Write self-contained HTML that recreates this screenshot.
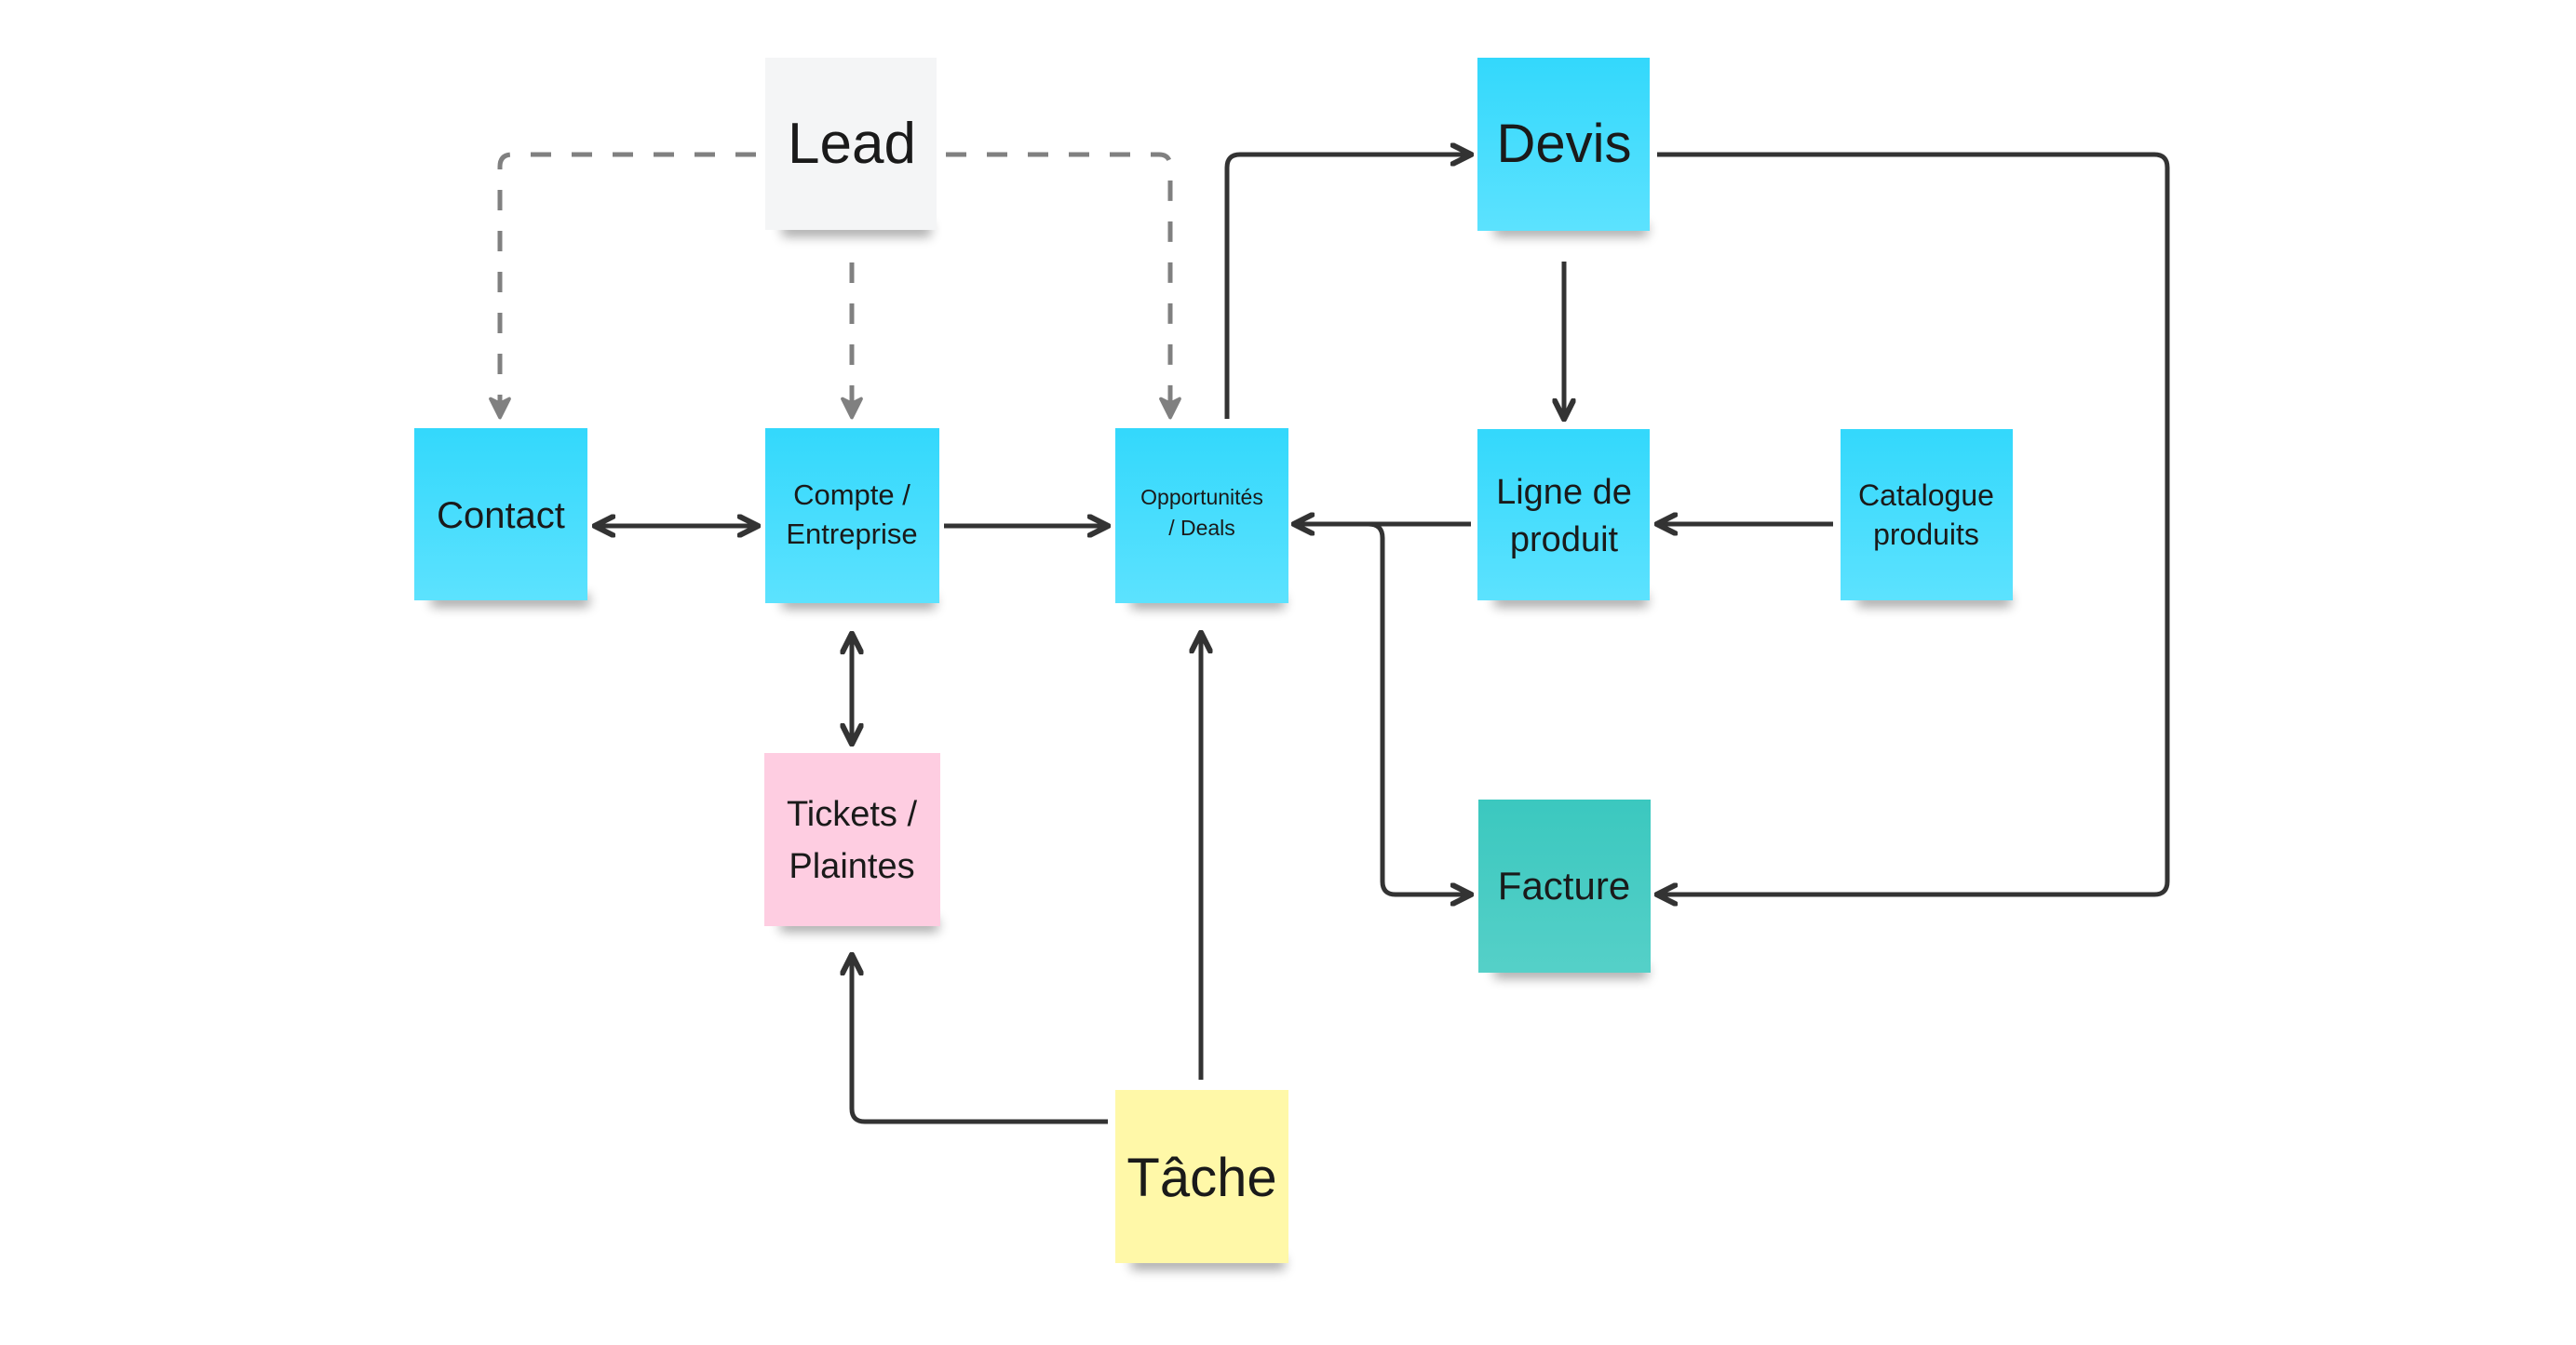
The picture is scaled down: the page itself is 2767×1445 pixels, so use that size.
<!DOCTYPE html>
<html><head><meta charset="utf-8"><style>
html,body{margin:0;padding:0;background:#fff}
svg{display:block}
text{font-family:"Liberation Sans",sans-serif;fill:#1a1a1a;text-anchor:middle}
</style></head><body>
<svg width="2767" height="1445" viewBox="0 0 2767 1445" xmlns="http://www.w3.org/2000/svg">
<defs>
<linearGradient id="cy" x1="0" y1="0" x2="0" y2="1"><stop offset="0" stop-color="#33d8fc"/><stop offset="1" stop-color="#5ce2fe"/></linearGradient>
<linearGradient id="tl" x1="0" y1="0" x2="0" y2="1"><stop offset="0" stop-color="#3bc8bf"/><stop offset="1" stop-color="#55d0c8"/></linearGradient>
<filter id="sh" x="-20%" y="-20%" width="140%" height="160%"><feGaussianBlur stdDeviation="6"/></filter>
<marker id="ad" viewBox="0 0 10 10" refX="8" refY="5" markerWidth="5" markerHeight="5" orient="auto-start-reverse"><path d="M1,1 L9,5 L1,9" fill="none" stroke="#333" stroke-width="2.4" stroke-linejoin="round" stroke-linecap="round"/></marker>
<marker id="ag" viewBox="0 0 10 10" refX="8" refY="5" markerWidth="5" markerHeight="5" orient="auto"><path d="M1,1 L9,5 L1,9 L3,5Z" fill="#808080" stroke="#808080" stroke-width="1.5" stroke-linejoin="round"/></marker>
</defs>
<!-- shadows -->
<g fill="#000" opacity="0.35" filter="url(#sh)">
<rect x="840" y="240" width="160" height="14"/>
<rect x="463" y="638" width="170" height="14"/>
<rect x="840" y="640" width="165" height="14"/>
<rect x="1215" y="640" width="165" height="14"/>
<rect x="1605" y="240" width="165" height="14"/>
<rect x="1605" y="638" width="165" height="14"/>
<rect x="1995" y="638" width="165" height="14"/>
<rect x="1605" y="1037" width="165" height="14"/>
<rect x="838" y="987" width="170" height="14"/>
<rect x="1215" y="1350" width="165" height="14"/>
</g>
<!-- notes -->
<rect x="822" y="62" width="184" height="185" fill="#f4f5f6"/>
<rect x="445" y="460" width="186" height="185" fill="url(#cy)"/>
<rect x="822" y="460" width="187" height="188" fill="url(#cy)"/>
<rect x="1198" y="460" width="186" height="188" fill="url(#cy)"/>
<rect x="1587" y="62" width="185" height="186" fill="url(#cy)"/>
<rect x="1587" y="461" width="185" height="184" fill="url(#cy)"/>
<rect x="1977" y="461" width="185" height="184" fill="url(#cy)"/>
<rect x="1588" y="859" width="185" height="186" fill="url(#tl)"/>
<rect x="821" y="809" width="189" height="186" fill="#fecde1"/>
<rect x="1198" y="1171" width="186" height="186" fill="#fff8a8"/>
<!-- dashed -->
<g fill="none" stroke="#808080" stroke-width="5" stroke-dasharray="22,22">
<path d="M812,166 H550 Q537,166 537,179 V446" marker-end="url(#ag)"/>
<path d="M1016,166 H1245 Q1257,166 1257,179 V446" marker-end="url(#ag)"/>
<path d="M915,282 V446" marker-end="url(#ag)"/>
</g>
<!-- solid -->
<g fill="none" stroke="#333" stroke-width="5" stroke-linejoin="round">
<path d="M1318,450 V180 Q1318,166 1332,166 H1578" marker-end="url(#ad)"/>
<path d="M641,565 H812" marker-start="url(#ad)" marker-end="url(#ad)"/>
<path d="M1014,565 H1188" marker-end="url(#ad)"/>
<path d="M1680,281 V448" marker-end="url(#ad)"/>
<path d="M1969,563 H1782" marker-end="url(#ad)"/>
<path d="M1580,563 H1392" marker-end="url(#ad)"/>
<path d="M1470,563 Q1485,563 1485,578 V947 Q1485,961 1499,961 H1578" marker-end="url(#ad)"/>
<path d="M1780,166 H2314 Q2328,166 2328,180 V947 Q2328,961 2314,961 H1782" marker-end="url(#ad)"/>
<path d="M915,683 V797" marker-start="url(#ad)" marker-end="url(#ad)"/>
<path d="M1290,1160 V682" marker-end="url(#ad)"/>
<path d="M1190,1205 H929 Q915,1205 915,1191 V1028" marker-end="url(#ad)"/>
</g>
<!-- labels -->
<text x="915" y="175" font-size="62">Lead</text>
<text x="538" y="567" font-size="40">Contact</text>
<text x="915" y="542" font-size="31">Compte /</text>
<text x="915" y="584" font-size="31">Entreprise</text>
<text x="1291" y="542" font-size="23">Opportunités</text>
<text x="1291" y="575" font-size="23">/ Deals</text>
<text x="1680" y="174" font-size="58">Devis</text>
<text x="1680" y="541" font-size="38">Ligne de</text>
<text x="1680" y="592" font-size="38">produit</text>
<text x="2069" y="543" font-size="32">Catalogue</text>
<text x="2069" y="585" font-size="32">produits</text>
<text x="1680" y="966" font-size="42">Facture</text>
<text x="915" y="887" font-size="38">Tickets /</text>
<text x="915" y="943" font-size="38">Plaintes</text>
<text x="1291" y="1285" font-size="58">Tâche</text>
</svg>
</body></html>
